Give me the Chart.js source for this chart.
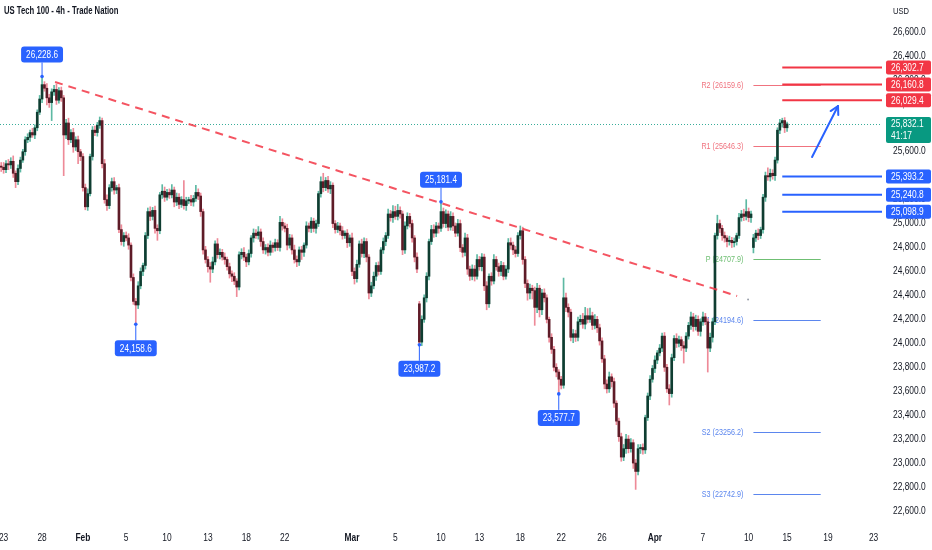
<!DOCTYPE html>
<html>
<head>
<meta charset="utf-8">
<script src="https://cdn.jsdelivr.net/npm/chart.js@4.4.1/dist/chart.umd.min.js"></script>
<style>
  html, body { margin: 0; padding: 0; background: #fff; }
</style>
</head>
<body>
<canvas id="chart" width="932" height="550"></canvas>
<script>
// 4h candles (close of each candle)
const firstOpen = 25480;
const closes = [
  25470, 25450, 25500, 25490, 25520, 25420, 25350, 25460, 25530, 25600,
  25700, 25720, 25760, 25740, 25800, 25930, 26040, 26160, 26130, 26050,
  26010, 26100, 26120, 26030, 26110, 26050, 25740, 25840, 25700, 25760,
  25640, 25700, 25600, 25560, 25300, 25140, 25250, 25560, 25780, 25760,
  25820, 25860, 25500, 25200, 25150, 25300, 25350, 25280, 25300, 24950,
  24850, 24900, 24880, 24820, 24550, 24350, 24320, 24480, 24600, 24650,
  24900, 25100, 25060, 25110, 24960, 24940, 25240, 25270, 25220, 25260,
  25240, 25280, 25180, 25220, 25160, 25200, 25150, 25190, 25200, 25180,
  25210, 25260, 25230, 25100, 24780, 24700, 24640, 24620, 24680, 24830,
  24740, 24760, 24720, 24700, 24640, 24580, 24560, 24520, 24470, 24740,
  24760, 24720, 24680, 24750, 24880, 24920, 24900, 24930, 24850, 24780,
  24800, 24760, 24820, 24800, 24840, 24800, 25010, 24980, 24960, 24820,
  24880, 24780, 24700, 24680, 24780, 24760, 24820, 24980, 24960, 25020,
  24960, 25000, 25250, 25350, 25300, 25360, 25290, 25320, 25000, 24950,
  24980, 24940, 24900, 24920, 24840, 24880, 24600, 24540, 24660, 24830,
  24750, 24850, 24720, 24420, 24480, 24560, 24650, 24600, 24780, 24850,
  24900, 25080, 25050, 25100, 25060, 25110, 25080, 24780, 24980, 25060,
  25000, 24880, 24720, 24620, 24010, 24200, 24380, 24560, 24850, 24950,
  24920, 24980, 24960, 25100, 25000, 25080, 24970, 25060, 24980, 24920,
  25000, 24800, 24760, 24880, 24620, 24560, 24620, 24560, 24700, 24640,
  24720, 24480, 24330, 24560, 24520, 24700, 24640, 24600, 24650, 24560,
  24620, 24840, 24820, 24780, 24750, 24900, 24940, 24700, 24500, 24420,
  24460, 24440, 24300, 24460, 24280, 24420, 24380, 24200, 24050, 23950,
  23800, 23760, 23700, 23650, 24380, 24300, 24260, 24050, 24080, 24050,
  24180, 24200, 24160, 24230, 24200, 24230, 24150, 24200, 24130, 24020,
  23870, 23660, 23620, 23720, 23680, 23500, 23350, 23220, 23050, 23120,
  23200, 23120, 23170, 23000, 22930, 23120, 23130, 23110, 23380, 23560,
  23700, 23790, 23860, 23920, 23960, 24060, 23800, 23620, 23580, 23880,
  24040, 24000, 24030, 23980, 23960, 24060, 24150, 24220, 24140, 24200,
  24100, 24180, 24220, 24180, 23960, 24050, 24180, 24900, 25000, 24960,
  24900, 24880, 24850, 24860, 24840, 24850, 24900, 25050, 25080, 25060,
  25100, 25050, 25080, 24880, 24920, 24900, 24950, 25220, 25400, 25390,
  25420, 25400, 25530, 25780, 25840, 25860, 25800, 25832.1
];
// opens that do not follow the previous close (weekend gaps)
const gapOpens = { 174: 24330, 313: 24800 };
// wick lengths above / below the body, in points
const wickUp = [
  30, 40, 25, 35, 30, 45, 20, 30, 25, 20,
  25, 30, 20, 35, 25, 20, 30, 68.6, 25, 40,
  30, 25, 35, 45, 25, 30, 20, 30, 40, 25,
  35, 25, 30, 20, 25, 30, 40, 20, 30, 35,
  25, 30, 20, 35, 40, 25, 30, 35, 20, 30,
  40, 25, 30, 35, 20, 30, 25, 35, 30, 20,
  25, 30, 40, 25, 35, 30, 20, 55, 35, 25,
  30, 45, 25, 35, 30, 25, 160, 30, 20, 35,
  25, 60, 30, 25, 20, 30, 25, 35, 40, 25,
  45, 30, 25, 35, 20, 30, 25, 30, 20, 25,
  30, 40, 25, 30, 20, 35, 30, 45, 25, 30,
  25, 30, 35, 20, 30, 25, 50, 30, 25, 35,
  30, 25, 40, 30, 25, 30, 20, 35, 25, 30,
  25, 30, 20, 40, 70, 25, 35, 30, 20, 25,
  30, 25, 35, 20, 30, 25, 40, 30, 35, 25,
  40, 30, 25, 20, 30, 35, 25, 30, 20, 30,
  25, 40, 30, 50, 45, 50, 30, 25, 35, 30,
  25, 30, 20, 35, 20, 30, 25, 30, 20, 35,
  40, 30, 25, 81.4, 30, 35, 25, 40, 30, 25,
  35, 30, 25, 40, 30, 25, 35, 30, 40, 25,
  30, 25, 35, 20, 30, 40, 25, 30, 35, 25,
  30, 35, 40, 25, 30, 25, 40, 30, 25, 30,
  35, 25, 30, 40, 25, 30, 35, 25, 20, 30,
  25, 30, 20, 25, 165, 40, 30, 25, 35, 30,
  40, 35, 50, 70, 60, 65, 30, 40, 25, 30,
  25, 30, 35, 40, 25, 30, 20, 25, 30, 35,
  40, 30, 35, 25, 30, 35, 25, 30, 20, 25,
  30, 25, 35, 20, 30, 25, 30, 25, 35, 30,
  25, 40, 30, 25, 35, 30, 25, 40, 30, 35,
  30, 25, 40, 30, 25, 35, 30, 20, 70, 30,
  25, 30, 20, 35, 25, 30, 20, 35, 30, 40,
  100, 30, 25, 30, 25, 35, 20, 25, 30, 65,
  35, 30, 25, 20, 30, 20, 25, 15
];
const wickDown = [
  35, 30, 25, 40, 30, 35, 50, 25, 30, 20,
  30, 25, 35, 20, 30, 25, 20, 30, 25, 60,
  40, 150, 30, 35, 25, 30, 340, 30, 40, 25,
  45, 30, 100, 35, 30, 25, 30, 20, 30, 25,
  30, 25, 35, 30, 40, 25, 30, 35, 30, 25,
  30, 40, 25, 35, 30, 25, 161.4, 30, 25, 35,
  30, 25, 35, 30, 40, 80, 25, 30, 35, 25,
  30, 25, 40, 30, 35, 25, 30, 40, 25, 30,
  35, 25, 30, 40, 35, 30, 45, 110, 30, 25,
  30, 35, 25, 40, 30, 35, 45, 30, 80, 25,
  35, 30, 40, 25, 30, 35, 25, 30, 40, 30,
  35, 30, 25, 40, 30, 25, 30, 35, 30, 40,
  25, 35, 30, 40, 30, 60, 35, 25, 30, 35,
  30, 40, 25, 30, 35, 25, 30, 40, 35, 30,
  25, 35, 30, 25, 40, 30, 35, 45, 30, 25,
  30, 35, 40, 50, 30, 25, 35, 30, 25, 30,
  35, 25, 30, 40, 25, 30, 35, 40, 30, 25,
  30, 35, 40, 30, 22.8, 30, 25, 35, 30, 25,
  35, 30, 40, 25, 30, 35, 30, 25, 40, 30,
  25, 35, 40, 30, 45, 35, 30, 40, 25, 30,
  35, 40, 50, 30, 35, 25, 30, 40, 35, 30,
  25, 30, 35, 40, 30, 25, 30, 40, 35, 60,
  50, 70, 150, 45, 60, 40, 35, 30, 40, 35,
  30, 40, 122.3, 30, 25, 35, 40, 30, 45, 35,
  30, 25, 35, 40, 30, 25, 35, 30, 40, 35,
  30, 40, 35, 30, 45, 35, 30, 40, 35, 30,
  40, 35, 30, 45, 150, 30, 40, 35, 30, 25,
  30, 25, 35, 30, 25, 30, 35, 30, 95, 30,
  25, 35, 30, 40, 125, 30, 25, 35, 40, 30,
  35, 40, 30, 25, 200, 30, 40, 25, 30, 35,
  40, 35, 45, 30, 40, 35, 30, 25, 30, 35,
  30, 35, 40, 45, 30, 35, 25, 30, 35, 30,
  35, 30, 40, 25, 30, 35, 40, 30
];

// time axis: candle slots (incl. empty space on the right) and dated ticks
const slotCount = 367;
const tickSlots = [1, 17, 34, 52, 69, 86, 102, 118, 146, 164, 183, 199, 216, 233, 250, 272, 292, 311, 327, 344, 363];
const tickTexts = ['23', '28', 'Feb', '5', '10', '13', '18', '22', 'Mar', '5', '10', '13', '18', '22', '26', 'Apr', '7', '10', '15', '19', '23'];
const monthTexts = ['Feb', 'Mar', 'Apr'];

// price axis
const priceTicks = [22600, 22800, 23000, 23200, 23400, 23600, 23800, 24000, 24200, 24400, 24600,
  24800, 25000, 25200, 25400, 25600, 25800, 26000, 26200, 26400, 26600];
const priceMin = 22466;
const priceMax = 26867;

// drawings
const lastPrice = 25832.1;
const countdown = '41:17';
const redLevels = [26302.7, 26160.8, 26029.4];
const blueLevels = [25393.2, 25240.8, 25098.9];
const calloutSlots = [17, 56, 174, 183, 232];
const calloutPrices = [26228.6, 24158.6, 23987.2, 25181.4, 23577.7];
const calloutAbove = [true, false, false, true, false];
const pivotNames = ['R2', 'R1', 'P', 'S1', 'S2', 'S3'];
const pivotValues = [26159.6, 25646.3, 24707.9, 24194.6, 23256.2, 22742.9];
const trendSlots = [22.4, 306.2];
const trendPrices = [26182, 24395];
const arrowSlots = [337.4, 348.2];
const arrowPrices = [25556, 25982];

const FONT = "'Liberation Sans', Arial, sans-serif";
const NARROW = 0.84;
const TEXT = '#131722';
const BODY_UP = '#0f3d31', WICK_UP = '#5db9a3';
const BODY_DN = '#5e1b27', WICK_DN = '#ee8a98';
const RED = '#f23645', BLUE = '#2962ff', GREEN = '#089981';

const opens = closes.map((c, i) => gapOpens[i] !== undefined ? gapOpens[i] : (i === 0 ? firstOpen : closes[i - 1]));
const isUp = closes.map((c, i) => c >= opens[i]);
const bodies = closes.map((c, i) => [opens[i], c]);
const wicks = closes.map((c, i) => [Math.min(c, opens[i]) - wickDown[i], Math.max(c, opens[i]) + wickUp[i]]);
const labels = Array.from({ length: slotCount }, (_, i) => {
  const k = tickSlots.indexOf(i);
  return k >= 0 ? tickTexts[k] : '';
});
const fmt = v => v.toLocaleString('en-US', { minimumFractionDigits: 1, maximumFractionDigits: 1 });

function roundRect(ctx, x, y, w, h, r) {
  ctx.beginPath();
  ctx.moveTo(x + r, y);
  ctx.arcTo(x + w, y, x + w, y + h, r);
  ctx.arcTo(x + w, y + h, x, y + h, r);
  ctx.arcTo(x, y + h, x, y, r);
  ctx.arcTo(x, y, x + w, y, r);
  ctx.closePath();
}

function seg(ctx, x1, y1, x2, y2) {
  ctx.beginPath();
  ctx.moveTo(x1, y1);
  ctx.lineTo(x2, y2);
  ctx.stroke();
}

// text squeezed horizontally, the screenshot's fonts are narrow
function squeezed(ctx, txt, x, y, align, sx) {
  ctx.save();
  ctx.translate(x, y);
  ctx.scale(sx, 1);
  ctx.textAlign = align;
  ctx.fillText(txt, 0, 0);
  ctx.restore();
}

const overlay = {
  id: 'overlay',
  beforeDatasetsDraw(chart) {
    const { ctx, chartArea: a, scales: { x, y } } = chart;
    ctx.save();
    // last price dotted line
    const py = Math.round(y.getPixelForValue(lastPrice)) + 0.5;
    ctx.strokeStyle = GREEN;
    ctx.globalAlpha = 0.8;
    ctx.lineWidth = 1;
    ctx.setLineDash([1, 2]);
    seg(ctx, a.left, py, a.right, py);
    ctx.setLineDash([]);
    ctx.globalAlpha = 1;

    // pivot points
    const px0 = x.getPixelForValue(313), px1 = x.getPixelForValue(341);
    ctx.font = '9px ' + FONT;
    ctx.textBaseline = 'middle';
    pivotNames.forEach((n, k) => {
      const col = n[0] === 'R' ? '#f0737f' : (n === 'P' ? '#6fbf73' : '#5b86ee');
      const yy = Math.round(y.getPixelForValue(pivotValues[k])) + 0.5;
      ctx.strokeStyle = col;
      ctx.fillStyle = col;
      ctx.lineWidth = 1;
      seg(ctx, px0, yy, px1, yy);
      squeezed(ctx, n + ' (' + pivotValues[k].toFixed(1) + ')', px0 - 10, yy, 'right', 0.8);
    });
    ctx.restore();
  },
  afterDraw(chart) {
    const { ctx, chartArea: a, scales: { x, y } } = chart;
    ctx.save();

    // axis labels
    ctx.fillStyle = TEXT;
    ctx.textBaseline = 'middle';
    ctx.font = '10px ' + FONT;
    priceTicks.forEach(v => squeezed(ctx, fmt(v), a.right + 11, y.getPixelForValue(v), 'left', NARROW));
    tickSlots.forEach((s, k) => {
      ctx.font = (monthTexts.includes(tickTexts[k]) ? 'bold ' : '') + '10px ' + FONT;
      squeezed(ctx, tickTexts[k], x.getPixelForValue(s), a.bottom + 11, 'center', NARROW);
    });

    // trend line
    ctx.strokeStyle = RED;
    ctx.globalAlpha = 0.85;
    ctx.lineWidth = 2;
    ctx.setLineDash([8, 6]);
    const tx1 = x.getPixelForValue(trendSlots[0]), ty1 = y.getPixelForValue(trendPrices[0]);
    const tx2 = x.getPixelForValue(trendSlots[1]), ty2 = y.getPixelForValue(trendPrices[1]);
    seg(ctx, tx1, ty1, tx2, ty2);
    ctx.setLineDash([]);
    ctx.globalAlpha = 1;
    ctx.fillStyle = '#9aa0ab';
    ctx.beginPath();
    ctx.arc(tx2 + 11, ty2 + 3.5, 1, 0, Math.PI * 2);
    ctx.fill();

    // support / resistance levels
    const lx = x.getPixelForValue(325);
    ctx.lineWidth = 2;
    redLevels.forEach(v => {
      const yy = y.getPixelForValue(v);
      ctx.strokeStyle = RED;
      seg(ctx, lx, yy, a.right, yy);
    });
    blueLevels.forEach(v => {
      const yy = y.getPixelForValue(v);
      ctx.strokeStyle = BLUE;
      seg(ctx, lx, yy, a.right, yy);
    });

    // arrow
    const ax1 = x.getPixelForValue(arrowSlots[0]), ay1 = y.getPixelForValue(arrowPrices[0]);
    const ax2 = x.getPixelForValue(arrowSlots[1]), ay2 = y.getPixelForValue(arrowPrices[1]);
    ctx.strokeStyle = BLUE;
    ctx.lineWidth = 2;
    ctx.lineCap = 'round';
    seg(ctx, ax1, ay1, ax2, ay2);
    const ang = Math.atan2(ay2 - ay1, ax2 - ax1);
    [0.5, -0.5].forEach(d => {
      seg(ctx, ax2, ay2, ax2 - 9 * Math.cos(ang + d), ay2 - 9 * Math.sin(ang + d));
    });
    ctx.lineCap = 'butt';

    // callouts
    ctx.font = '10px ' + FONT;
    ctx.textBaseline = 'middle';
    calloutSlots.forEach((s, k) => {
      const cx = x.getPixelForValue(s), cy = y.getPixelForValue(calloutPrices[k]);
      const txt = fmt(calloutPrices[k]);
      const w = ctx.measureText(txt).width * 0.82 + 10, h = 16;
      const by = calloutAbove[k] ? cy - 14 - h : cy + 16;
      ctx.strokeStyle = BLUE;
      ctx.lineWidth = 1;
      seg(ctx, cx, cy, cx, calloutAbove[k] ? by + h : by);
      ctx.fillStyle = BLUE;
      ctx.beginPath();
      ctx.arc(cx, cy, 1.8, 0, Math.PI * 2);
      ctx.fill();
      roundRect(ctx, cx - w / 2, by, w, h, 3);
      ctx.fill();
      ctx.fillStyle = '#fff';
      squeezed(ctx, txt, cx, by + h / 2 + 0.5, 'center', 0.82);
    });

    // price scale badges
    const bx = a.right + 4, bw = 932 - bx - 1;
    const badge = (v, col) => {
      const yy = y.getPixelForValue(v);
      ctx.fillStyle = col;
      roundRect(ctx, bx, yy - 7, bw, 14, 2);
      ctx.fill();
      ctx.fillStyle = '#fff';
      squeezed(ctx, fmt(v), bx + 5, yy + 0.5, 'left', NARROW);
    };
    redLevels.forEach(v => badge(v, RED));
    blueLevels.forEach(v => badge(v, BLUE));
    const ly = y.getPixelForValue(lastPrice);
    ctx.fillStyle = GREEN;
    roundRect(ctx, bx, ly - 7, bw, 26, 2);
    ctx.fill();
    ctx.fillStyle = '#fff';
    squeezed(ctx, fmt(lastPrice), bx + 5, ly + 0.5, 'left', NARROW);
    squeezed(ctx, countdown, bx + 5, ly + 12.5, 'left', NARROW);

    // header texts
    ctx.fillStyle = TEXT;
    ctx.font = 'bold 10px ' + FONT;
    squeezed(ctx, 'US Tech 100 - 4h - Trade Nation', 4, 11, 'left', 0.77);
    ctx.font = '9px ' + FONT;
    squeezed(ctx, 'USD', 893, 12, 'left', NARROW);
    ctx.restore();
  }
};

new Chart(document.getElementById('chart'), {
  type: 'bar',
  data: {
    labels: labels,
    datasets: [
      {
        data: wicks,
        backgroundColor: isUp.map(u => u ? WICK_UP : WICK_DN),
        barThickness: 1,
        grouped: false,
        order: 2
      },
      {
        data: bodies,
        backgroundColor: isUp.map(u => u ? BODY_UP : BODY_DN),
        barThickness: 2,
        minBarLength: 1,
        grouped: false,
        order: 1
      }
    ]
  },
  options: {
    responsive: false,
    animation: false,
    layout: { padding: 0 },
    plugins: { legend: { display: false }, tooltip: { enabled: false } },
    scales: {
      x: {
        type: 'category',
        offset: true,
        grid: { display: false, drawTicks: false },
        border: { display: false },
        ticks: { display: false },
        afterFit: s => { s.height = 23; s.paddingLeft = 0; s.paddingRight = 0; }
      },
      y: {
        position: 'right',
        min: priceMin,
        max: priceMax,
        grid: { display: false, drawTicks: false },
        border: { display: false },
        ticks: { display: false },
        afterFit: s => { s.width = 50; s.paddingTop = 0; s.paddingBottom = 0; }
      }
    }
  },
  plugins: [overlay]
});
</script>
</body>
</html>
